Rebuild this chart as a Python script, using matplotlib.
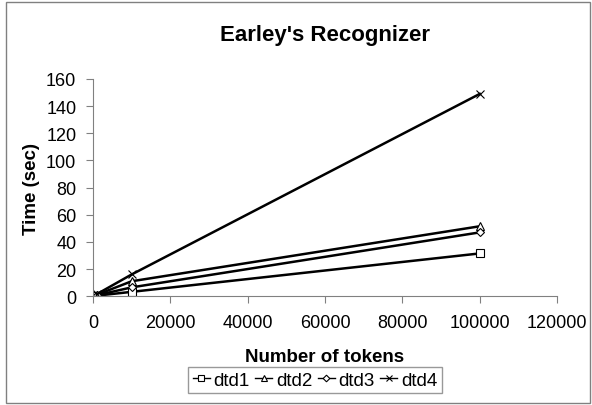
import numpy as np
import matplotlib
matplotlib.use('Agg')
import matplotlib.pyplot as plt
from matplotlib.patches import Rectangle

plt.rcParams['font.family'] = ['Liberation Sans', 'DejaVu Sans']

#-------------------------------------------------------------------------------------
tokens = [1000, 10000, 100000]
dtd1 = [0.4, 3.2, 31.5]
dtd2 = [1.0, 11, 51.5]
dtd3 = [0.7, 6.5, 47]
dtd4 = [1.5, 16, 149]
names = ['dtd1', 'dtd2', 'dtd3', 'dtd4']
markers = ['s', '^', 'D', 'x']
#-------------------------------------------------------------------------------------

fig = plt.figure(figsize=(5.92, 4.06), dpi=100)
ax = fig.add_axes([0.157, 0.268, 0.784, 0.535])

for ys, m, n in zip([dtd1, dtd2, dtd3, dtd4], markers, names):
    ms = 6 if m != 'D' else 4.5
    ax.plot(tokens, ys, color='black', linewidth=1.8, marker=m, markersize=ms,
            markerfacecolor='white', markeredgecolor='black', markeredgewidth=0.8, label=n)

ax.set_xlim(0, 120000)
ax.set_ylim(0, 160)
ax.set_xticks(np.arange(0, 120001, 20000))
ax.set_yticks(np.arange(0, 161, 20))
for s in ['top', 'right']:
    ax.spines[s].set_visible(False)
for s in ['left', 'bottom']:
    ax.spines[s].set_color('#808080')
ax.tick_params(colors='#808080', labelcolor='black', labelsize=13, length=5)
ax.tick_params(axis='x', pad=8)
ax.tick_params(axis='y', pad=7)

ax.set_title("Earley's Recognizer", fontsize=16, fontweight='bold', pad=28)
ax.set_xlabel('Number of tokens', fontsize=13.5, fontweight='bold', labelpad=12)
ax.set_ylabel('Time (sec)', fontsize=13.5, fontweight='bold', labelpad=4)

leg = ax.legend(loc='center', bbox_to_anchor=(315/592, 1-381/406), bbox_transform=fig.transFigure,
                ncol=4, frameon=True, fancybox=False, fontsize=13.5, handlelength=0.9,
                handletextpad=0.2, columnspacing=0.3, borderpad=0.25, markerscale=0.75)
leg.get_frame().set_edgecolor('#808080')
leg.get_frame().set_linewidth(1.0)
for h in leg.get_lines():
    h.set_linewidth(1.0)

fig.patches.append(Rectangle((6/592, 2/406), 584/592, 401/406, transform=fig.transFigure,
                             fill=False, edgecolor='#808080', linewidth=1.0))

plt.savefig('out.png', dpi=100)
